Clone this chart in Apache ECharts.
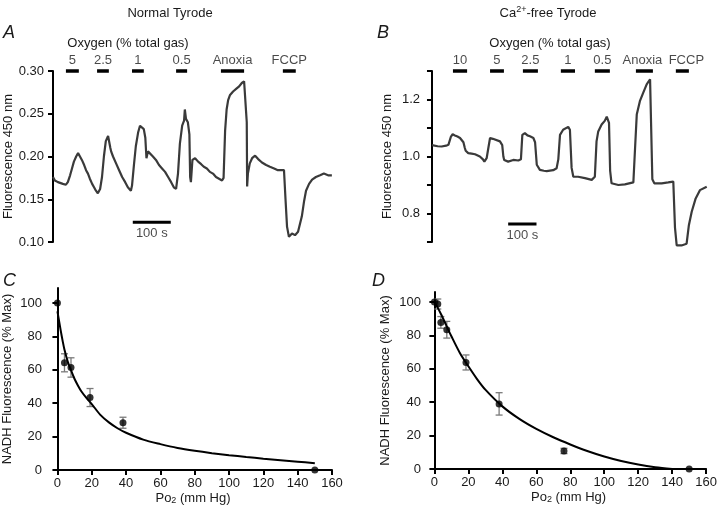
<!DOCTYPE html>
<html><head><meta charset="utf-8">
<script src="https://cdn.jsdelivr.net/npm/echarts@6/dist/echarts.min.js"></script>
<style>html,body{margin:0;padding:0;background:#fff}#c{width:720px;height:513px}</style>
</head><body><div id="c"></div>
<script>
// ---------- DATA ----------
// Panel A: Normal Tyrode trace (time s, fluorescence 450 nm)
const traceA = [[0,0.176],[5,0.172],[13,0.170],[18,0.172],[26,0.168],[34,0.167],[39,0.170],[45,0.178],[50,0.186],[55,0.194],[61,0.200],[66,0.204],[71,0.200],[76,0.196],[82,0.190],[87,0.184],[92,0.180],[97,0.174],[103,0.168],[108,0.164],[113,0.160],[118,0.157],[124,0.162],[129,0.176],[134,0.200],[139,0.218],[145,0.224],[149,0.226],[151,0.210],[153,0.206],[158,0.200],[166,0.192],[174,0.184],[182,0.176],[190,0.170],[197,0.164],[205,0.160],[208,0.166],[213,0.190],[218,0.212],[224,0.228],[229,0.236],[234,0.238],[239,0.232],[243,0.222],[246,0.198],[250,0.206],[255,0.208],[263,0.200],[271,0.196],[279,0.190],[287,0.186],[295,0.182],[303,0.176],[311,0.170],[318,0.164],[324,0.162],[329,0.180],[334,0.215],[340,0.236],[345,0.242],[347,0.255],[350,0.244],[355,0.240],[359,0.226],[361,0.176],[363,0.170],[367,0.196],[374,0.198],[382,0.194],[390,0.191],[397,0.188],[405,0.186],[413,0.182],[421,0.180],[429,0.176],[437,0.174],[445,0.172],[449,0.175],[453,0.230],[457,0.255],[461,0.266],[466,0.272],[474,0.276],[482,0.279],[490,0.282],[497,0.286],[503,0.288],[508,0.287],[510,0.240],[511,0.165],[513,0.180],[518,0.192],[524,0.198],[532,0.201],[540,0.197],[550,0.193],[561,0.190],[571,0.188],[582,0.186],[592,0.184],[600,0.184],[608,0.184],[612,0.150],[616,0.118],[621,0.106],[629,0.110],[637,0.108],[645,0.112],[650,0.112],[655,0.130],[661,0.148],[666,0.160],[674,0.168],[682,0.173],[692,0.176],[703,0.178],[713,0.180],[724,0.178],[734,0.178]];
// Panel B: Ca2+-free Tyrode trace
const traceB = [[0,1.040],[5,1.044],[20,1.036],[34,1.035],[50,1.038],[58,1.041],[64,1.045],[67,1.070],[73,1.078],[81,1.074],[90,1.070],[99,1.065],[111,1.050],[116,1.030],[119,1.020],[128,1.012],[140,1.010],[152,1.008],[169,1.000],[180,0.990],[185,0.982],[193,0.994],[199,1.030],[205,1.065],[215,1.062],[222,1.059],[240,1.053],[248,1.040],[252,1.000],[255,0.988],[269,0.982],[287,0.988],[305,0.986],[314,0.990],[319,1.076],[328,1.082],[337,1.074],[346,1.071],[358,1.065],[364,1.050],[370,0.971],[381,0.953],[395,0.950],[405,0.949],[428,0.952],[440,0.959],[446,0.990],[452,1.076],[463,1.094],[469,1.100],[481,1.104],[487,1.094],[493,0.960],[499,0.929],[516,0.929],[540,0.924],[564,0.918],[575,0.929],[581,1.053],[587,1.088],[599,1.112],[610,1.125],[617,1.140],[625,1.118],[629,0.950],[634,0.906],[658,0.900],[681,0.902],[711,0.909],[717,1.029],[723,1.147],[734,1.194],[746,1.224],[758,1.253],[770,1.271],[773,1.276],[778,0.920],[785,0.906],[811,0.906],[834,0.909],[852,0.912],[858,0.750],[864,0.688],[881,0.688],[899,0.694],[907,0.759],[917,0.806],[931,0.853],[946,0.882],[970,0.894]];
// Gas bars (start s, end s) and labels
const barsA = [[34,68],[116,147],[208,239],[324,353],[442,503],[605,639]];
const barLabelsA = ['5','2.5','1','0.5','Anoxia','FCCP'];
const barsB = [[74,124],[205,254],[321,374],[455,505],[575,628],[720,780],[861,907]];
const barLabelsB = ['10','5','2.5','1','0.5','Anoxia','FCCP'];
const scaleA = [210,310]; const scaleB = [269,369];
// Panel C
const cPo2 = [0,4.1,7.9,19,38.2,150];
const cNadh = [100,64.2,61.4,43.4,28.3,0];
const cErr = [0,5.4,5.8,5.4,3.3,0];
const cFit = [[0,95],[1,89],[2,83],[3,77.5],[4,72.5],[6,65],[8,59.5],[10,54.5],[12,50.5],[14,47],[17,43],[20,39.5],[25,33],[30,28.5],[35,25],[40,22.3],[50,18.2],[60,15.5],[70,13.2],[80,11.5],[90,10.1],[100,8.9],[110,7.8],[120,6.8],[130,5.9],[140,5],[150,4]];
// Panel D
const dPo2 = [0,2,3.8,7.3,18.6,38.1,76.3,150];
const dNadh = [100,98.8,87.8,83.4,63.8,39,10.8,0];
const dErr = [0,3,3.5,5,4.5,6.7,1.6,0];
const dFit = [[0,100],[2,96.5],[4,92.5],[7,86],[10,79.5],[15,69.5],[20,61.5],[25,54],[30,47.5],[40,37.5],[50,30],[60,24],[70,19],[80,14.7],[90,10.8],[100,7.5],[110,4.8],[120,2.7],[130,1.1],[140,0]];
const po2Ticks = [0,20,40,60,80,100,120,140,160];
const nadhTicks = [0,20,40,60,80,100];

// ---------- CHART ----------
const FONT = "'Liberation Sans', Arial, sans-serif";
const TXT = '#1a1a1a';
const chart = echarts.init(document.getElementById('c'), null, {renderer:'canvas'});

function yAx(gi, opt){
  return Object.assign({
    gridIndex: gi, type:'value',
    axisLine:{show:true, lineStyle:{color:'#000', width:2}},
    axisTick:{show:true, length:5, lineStyle:{color:'#000', width:2}},
    axisLabel:{color:TXT, fontSize:13, fontFamily:FONT},
    splitLine:{show:false},
    nameLocation:'middle', nameTextStyle:{color:TXT, fontSize:13, fontFamily:FONT}
  }, opt);
}
const subRich = {sub:{fontSize:9, fontFamily:FONT, color:TXT, verticalAlign:'bottom', lineHeight:8}};

function barSeries(bars, labels, yv, ai, offsets){
  const out = [];
  bars.forEach((b)=>{
    out.push({type:'line', xAxisIndex:ai, yAxisIndex:ai, data:[[b[0],yv],[b[1],yv]], showSymbol:false, clip:false,
      lineStyle:{color:'#000', width:3.5}, silent:true, z:5});
  });
  out.push({type:'scatter', xAxisIndex:ai, yAxisIndex:ai, symbolSize:0, clip:false, silent:true,
    data: bars.map((b,i)=>({value:[(b[0]+b[1])/2, yv], name:labels[i], label:{offset:(offsets&&offsets[i])||[0,0]}})),
    label:{show:true, position:'top', distance:4, formatter:p=>p.name, color:TXT, fontSize:13, fontFamily:FONT}});
  return out;
}
function scaleSeries(s, yv, ai){
  return [
    {type:'line', xAxisIndex:ai, yAxisIndex:ai, data:[[s[0],yv],[s[1],yv]], showSymbol:false, lineStyle:{color:'#000', width:3}, silent:true},
    {type:'scatter', xAxisIndex:ai, yAxisIndex:ai, symbolSize:0, silent:true, data:[{value:[(s[0]+s[1])/2, yv], name:'100 s'}],
      label:{show:true, position:'bottom', distance:5, formatter:p=>p.name, color:TXT, fontSize:13, fontFamily:FONT}}
  ];
}
function errSeries(xs, ys, es, ai){
  return {type:'custom', xAxisIndex:ai, yAxisIndex:ai, z:2, silent:true,
    data: xs.map((x,i)=>[x, ys[i], es[i]]),
    renderItem:function(params, api){
      const x=api.value(0), y=api.value(1), e=api.value(2);
      if(!e) return null;
      const t=api.coord([x,y+e]), b=api.coord([x,y-e]);
      const w=3.5, st={stroke:'#7a7a7a', lineWidth:1.3};
      return {type:'group', children:[
        {type:'line', shape:{x1:t[0],y1:t[1],x2:b[0],y2:b[1]}, style:st},
        {type:'line', shape:{x1:t[0]-w,y1:t[1],x2:t[0]+w,y2:t[1]}, style:st},
        {type:'line', shape:{x1:b[0]-w,y1:b[1],x2:b[0]+w,y2:b[1]}, style:st}
      ]};
    }};
}

const option = {
  animation:false,
  backgroundColor:'#fff',
  textStyle:{fontFamily:FONT},
  grid:[
    {left:53, top:71, width:280, height:171},
    {left:430, top:71, width:277, height:171},
    {left:53, top:288, width:279, height:182},
    {left:431, top:292, width:276, height:177}
  ],
  xAxis:[
    {gridIndex:0, type:'value', min:0, max:737, show:false},
    {gridIndex:1, type:'value', min:-7, max:971, show:false},
    {gridIndex:2, type:'value', min:-2, max:160, name:'Po{sub|2} (mm Hg)', nameLocation:'middle', nameGap:22,
      nameTextStyle:{color:TXT, fontSize:13, fontFamily:FONT, rich:subRich},
      axisLine:{show:true, lineStyle:{color:'#000', width:2}},
      axisTick:{show:true, length:5, customValues:po2Ticks, lineStyle:{color:'#000', width:2}},
      axisLabel:{customValues:po2Ticks, color:TXT, fontSize:13, fontFamily:FONT, margin:7},
      splitLine:{show:false}},
    {gridIndex:3, type:'value', min:-2, max:160, name:'Po{sub|2} (mm Hg)', nameLocation:'middle', nameGap:22,
      nameTextStyle:{color:TXT, fontSize:13, fontFamily:FONT, rich:subRich},
      axisLine:{show:true, lineStyle:{color:'#000', width:2}},
      axisTick:{show:true, length:5, customValues:po2Ticks, lineStyle:{color:'#000', width:2}},
      axisLabel:{customValues:po2Ticks, color:TXT, fontSize:13, fontFamily:FONT, margin:7},
      splitLine:{show:false}}
  ],
  yAxis:[
    yAx(0,{min:0.10, max:0.30, interval:0.05, name:'Fluorescence 450 nm', nameGap:37,
      axisLabel:{color:TXT, fontSize:13, fontFamily:FONT, margin:9, formatter:v=>v.toFixed(2)}}),
    yAx(1,{min:0.7, max:1.3, interval:0.1, name:'Fluorescence 450 nm', nameGap:36,
      axisLabel:{color:TXT, fontSize:13, fontFamily:FONT, margin:10,
        formatter:v=>{const k=Math.round(v*10); return (k%2===0)?(k/10).toFixed(1):'';}}}),
    yAx(2,{min:0, max:109, name:'NADH Fluorescence (% Max)', nameGap:40,
      axisTick:{show:true, length:5, customValues:nadhTicks, lineStyle:{color:'#000', width:2}},
      axisLabel:{customValues:nadhTicks, color:TXT, fontSize:13, fontFamily:FONT, margin:12}}),
    yAx(3,{min:0, max:106, name:'NADH Fluorescence (% Max)', nameGap:39,
      axisTick:{show:true, length:5, customValues:nadhTicks, lineStyle:{color:'#000', width:2}},
      axisLabel:{customValues:nadhTicks, color:TXT, fontSize:13, fontFamily:FONT, margin:10}})
  ],
  series:[
    {type:'line', xAxisIndex:0, yAxisIndex:0, data:traceA, showSymbol:false, clip:false, lineStyle:{color:'#3a3a3a', width:2.2}, silent:true},
    {type:'line', xAxisIndex:1, yAxisIndex:1, data:traceB, showSymbol:false, clip:false, lineStyle:{color:'#3a3a3a', width:2.2}, silent:true},
    ...barSeries(barsA, barLabelsA, 0.30, 0),
    ...barSeries(barsB, barLabelsB, 1.30, 1, [null,null,null,null,null,[-2,0],[4,0]]),
    ...scaleSeries(scaleA, 0.123, 0),
    ...scaleSeries(scaleB, 0.763, 1),
    {type:'line', xAxisIndex:2, yAxisIndex:2, data:cFit, showSymbol:false, smooth:0.3, lineStyle:{color:'#000', width:2}, silent:true},
    errSeries(cPo2, cNadh, cErr, 2),
    {type:'scatter', xAxisIndex:2, yAxisIndex:2, data:cPo2.map((x,i)=>[x,cNadh[i]]), symbolSize:7, clip:false, itemStyle:{color:'#000'}, z:4},
    {type:'line', xAxisIndex:3, yAxisIndex:3, data:dFit, showSymbol:false, smooth:0.3, lineStyle:{color:'#000', width:2}, silent:true},
    errSeries(dPo2, dNadh, dErr, 3),
    {type:'scatter', xAxisIndex:3, yAxisIndex:3, data:dPo2.map((x,i)=>[x,dNadh[i]]), symbolSize:7, clip:false, itemStyle:{color:'#000'}, z:4}
  ],
  graphic:[
    {type:'text', style:{text:'Normal Tyrode', x:170, y:13, align:'center', verticalAlign:'middle', textAlign:'center', textVerticalAlign:'middle', fill:TXT, font:'13px '+FONT}},
    {type:'text', style:{text:'{a|Ca}{s|2+}{a|-free Tyrode}', x:548, y:13, align:'center', verticalAlign:'middle', textAlign:'center', textVerticalAlign:'middle', fill:TXT, font:'13px '+FONT,
      rich:{a:{fontSize:13, fontFamily:FONT, lineHeight:16, fill:TXT, color:TXT}, s:{fontSize:9, fontFamily:FONT, lineHeight:9, verticalAlign:'top', fill:TXT, color:TXT}}}},
    {type:'text', style:{text:'Oxygen (% total gas)', x:128, y:43, align:'center', verticalAlign:'middle', textAlign:'center', textVerticalAlign:'middle', fill:TXT, font:'13px '+FONT}},
    {type:'text', style:{text:'Oxygen (% total gas)', x:550, y:43, align:'center', verticalAlign:'middle', textAlign:'center', textVerticalAlign:'middle', fill:TXT, font:'13px '+FONT}},
    {type:'text', style:{text:'A', x:3, y:33, align:'left', verticalAlign:'middle', textAlign:'left', textVerticalAlign:'middle', fill:TXT, font:'italic 18px '+FONT}},
    {type:'text', style:{text:'B', x:377, y:33, align:'left', verticalAlign:'middle', textAlign:'left', textVerticalAlign:'middle', fill:TXT, font:'italic 18px '+FONT}},
    {type:'text', style:{text:'C', x:3, y:281, align:'left', verticalAlign:'middle', textAlign:'left', textVerticalAlign:'middle', fill:TXT, font:'italic 18px '+FONT}},
    {type:'text', style:{text:'D', x:372, y:281, align:'left', verticalAlign:'middle', textAlign:'left', textVerticalAlign:'middle', fill:TXT, font:'italic 18px '+FONT}}
  ]
};
chart.setOption(option);
</script></body></html>
